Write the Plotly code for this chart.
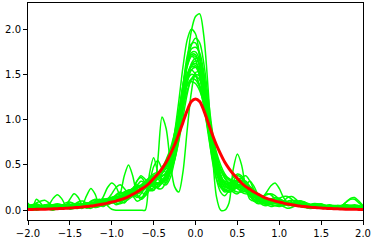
import numpy as np
import plotly.graph_objects as go

# x grid shared by all curves (step 0.05 from -2 to 2)
x_grid = [round(-2 + 0.05 * i, 2) for i in range(81)]

green_curves = {
    "A": [0.02,0.03,0.04,0.03,0.02,0.03,0.05,0.06,0.04,0.02,
          0.03,0.06,0.08,0.06,0.03,0.02,0.05,0.09,0.10,0.05,
          0.01,0.00,0.00,0.00,0.00,0.00,0.00,0.00,0.00,0.40,
          0.58,0.42,0.30,0.28,0.36,0.55,0.85,1.25,1.65,1.98,
          2.14,2.17,1.92,1.35,0.65,0.15,0.00,0.00,0.08,0.45,
          0.62,0.50,0.25,0.12,0.10,0.12,0.10,0.06,0.04,0.05,
          0.06,0.04,0.02,0.03,0.05,0.06,0.04,0.02,0.02,0.03,
          0.04,0.03,0.02,0.02,0.03,0.04,0.05,0.04,0.03,0.02,0.03],
    "B": [0.05,0.04,0.03,0.04,0.06,0.05,0.03,0.02,0.03,0.05,
          0.06,0.04,0.03,0.04,0.06,0.07,0.05,0.04,0.06,0.09,
          0.10,0.08,0.07,0.09,0.12,0.15,0.16,0.14,0.17,0.30,
          0.48,0.55,0.46,0.42,0.58,0.85,1.20,1.58,1.88,2.00,
          1.95,1.70,1.30,0.90,0.55,0.35,0.25,0.22,0.25,0.30,
          0.32,0.28,0.22,0.15,0.12,0.10,0.11,0.10,0.07,0.05,
          0.04,0.05,0.07,0.08,0.06,0.04,0.03,0.03,0.04,0.03,
          0.02,0.02,0.03,0.03,0.02,0.02,0.03,0.04,0.03,0.02,0.02],
    "C": [0.03,0.04,0.06,0.05,0.03,0.02,0.03,0.05,0.06,0.04,
          0.03,0.04,0.05,0.04,0.04,0.06,0.07,0.06,0.05,0.07,
          0.09,0.10,0.09,0.11,0.14,0.16,0.18,0.22,0.27,0.28,
          0.26,0.25,0.30,0.38,0.50,0.70,0.98,1.30,1.62,1.82,
          1.90,1.85,1.62,1.25,0.88,0.58,0.40,0.30,0.27,0.28,
          0.30,0.33,0.32,0.26,0.18,0.12,0.08,0.07,0.08,0.10,
          0.11,0.10,0.08,0.06,0.05,0.06,0.07,0.06,0.04,0.03,
          0.03,0.04,0.05,0.04,0.03,0.02,0.03,0.04,0.04,0.03,0.02],
    "D": [0.01,0.02,0.04,0.05,0.04,0.02,0.01,0.02,0.05,0.06,
          0.04,0.02,0.03,0.06,0.08,0.06,0.03,0.04,0.08,0.12,
          0.10,0.06,0.08,0.15,0.20,0.16,0.10,0.12,0.20,0.25,
          0.22,0.55,1.03,0.90,0.52,0.26,0.20,0.42,0.88,1.30,
          1.52,1.53,1.30,0.92,0.60,0.40,0.32,0.30,0.26,0.20,
          0.18,0.22,0.28,0.32,0.26,0.16,0.10,0.09,0.12,0.14,
          0.12,0.08,0.05,0.06,0.09,0.10,0.07,0.04,0.03,0.05,
          0.06,0.05,0.03,0.02,0.03,0.05,0.06,0.05,0.03,0.02,0.03],
    "E": [0.08,0.02,0.12,0.08,0.02,0.03,0.05,0.04,0.03,0.04,
          0.05,0.05,0.06,0.07,0.08,0.08,0.09,0.10,0.12,0.13,
          0.14,0.16,0.18,0.20,0.22,0.23,0.25,0.27,0.30,0.32,
          0.34,0.36,0.40,0.48,0.62,0.85,1.10,1.38,1.62,1.74,
          1.75,1.66,1.45,1.15,0.85,0.60,0.44,0.35,0.30,0.28,
          0.26,0.24,0.22,0.20,0.17,0.14,0.12,0.10,0.09,0.08,
          0.07,0.07,0.06,0.06,0.05,0.05,0.05,0.04,0.04,0.04,
          0.04,0.03,0.03,0.03,0.03,0.03,0.03,0.03,0.03,0.03,0.04],
    "F": [0.03,0.05,0.08,0.10,0.11,0.08,0.04,0.02,0.03,0.05,
          0.06,0.05,0.04,0.05,0.07,0.09,0.08,0.07,0.08,0.11,
          0.14,0.15,0.14,0.16,0.20,0.24,0.26,0.26,0.28,0.33,
          0.38,0.40,0.38,0.40,0.50,0.72,1.02,1.35,1.60,1.70,
          1.66,1.48,1.18,0.85,0.58,0.42,0.34,0.30,0.26,0.22,
          0.20,0.20,0.21,0.20,0.17,0.13,0.10,0.08,0.08,0.09,
          0.09,0.08,0.06,0.05,0.05,0.06,0.06,0.05,0.04,0.03,
          0.03,0.04,0.04,0.03,0.03,0.05,0.09,0.13,0.14,0.10,0.05],
    "G": [0.01,0.00,0.01,0.03,0.02,0.06,0.13,0.17,0.13,0.05,
          0.01,0.02,0.05,0.06,0.04,0.05,0.09,0.12,0.10,0.08,
          0.09,0.13,0.16,0.15,0.14,0.18,0.24,0.26,0.24,0.22,
          0.25,0.30,0.32,0.33,0.42,0.58,0.85,1.18,1.45,1.60,
          1.65,1.62,1.42,1.10,0.78,0.52,0.36,0.30,0.30,0.32,
          0.33,0.30,0.24,0.18,0.14,0.12,0.12,0.12,0.10,0.08,
          0.07,0.08,0.10,0.11,0.09,0.06,0.04,0.04,0.05,0.05,
          0.04,0.03,0.02,0.02,0.03,0.04,0.04,0.03,0.02,0.02,0.03],
    "H": [0.04,0.03,0.02,0.02,0.03,0.04,0.04,0.03,0.02,0.05,
          0.12,0.18,0.14,0.05,0.02,0.04,0.07,0.08,0.07,0.08,
          0.12,0.17,0.20,0.18,0.16,0.20,0.27,0.32,0.30,0.28,
          0.30,0.36,0.42,0.50,0.62,0.82,1.05,1.28,1.44,1.50,
          1.48,1.38,1.20,0.98,0.76,0.58,0.45,0.38,0.35,0.32,
          0.28,0.24,0.21,0.19,0.17,0.15,0.13,0.12,0.12,0.11,
          0.09,0.07,0.06,0.06,0.07,0.07,0.06,0.05,0.05,0.06,
          0.06,0.05,0.04,0.03,0.03,0.03,0.04,0.05,0.06,0.05,0.04],
    "I": [0.02,0.03,0.04,0.04,0.03,0.02,0.02,0.03,0.04,0.04,
          0.03,0.02,0.02,0.06,0.16,0.24,0.18,0.06,0.04,0.08,
          0.12,0.12,0.10,0.12,0.18,0.22,0.22,0.20,0.24,0.32,
          0.36,0.34,0.32,0.38,0.52,0.72,0.98,1.28,1.50,1.60,
          1.60,1.52,1.30,1.00,0.70,0.46,0.30,0.22,0.20,0.22,
          0.25,0.26,0.24,0.20,0.16,0.12,0.08,0.06,0.08,0.11,
          0.13,0.15,0.15,0.12,0.08,0.05,0.04,0.05,0.06,0.05,
          0.03,0.02,0.02,0.03,0.04,0.05,0.04,0.03,0.02,0.03,0.05],
    "J": [0.03,0.03,0.04,0.05,0.05,0.04,0.03,0.04,0.05,0.06,
          0.05,0.04,0.04,0.06,0.08,0.07,0.05,0.08,0.15,0.25,
          0.30,0.26,0.16,0.12,0.16,0.22,0.26,0.28,0.32,0.36,
          0.38,0.40,0.44,0.50,0.60,0.78,1.00,1.22,1.38,1.45,
          1.44,1.36,1.20,1.00,0.78,0.60,0.46,0.38,0.33,0.30,
          0.28,0.26,0.22,0.18,0.14,0.12,0.14,0.20,0.27,0.30,
          0.24,0.14,0.08,0.06,0.07,0.08,0.07,0.05,0.04,0.04,
          0.05,0.05,0.04,0.03,0.03,0.04,0.05,0.05,0.04,0.03,0.03],
    "K": [0.02,0.02,0.03,0.04,0.03,0.02,0.02,0.03,0.05,0.06,
          0.05,0.03,0.03,0.05,0.08,0.08,0.06,0.05,0.08,0.12,
          0.14,0.12,0.18,0.38,0.50,0.38,0.18,0.12,0.16,0.25,
          0.30,0.30,0.30,0.36,0.48,0.68,0.98,1.32,1.58,1.70,
          1.70,1.58,1.32,0.98,0.66,0.42,0.28,0.22,0.22,0.25,
          0.28,0.28,0.24,0.18,0.12,0.08,0.07,0.08,0.10,0.12,
          0.12,0.10,0.07,0.05,0.05,0.06,0.07,0.06,0.05,0.04,
          0.03,0.03,0.04,0.05,0.05,0.04,0.03,0.03,0.04,0.04,0.03],
    "L": [0.05,0.06,0.05,0.04,0.04,0.05,0.06,0.05,0.04,0.04,
          0.05,0.06,0.06,0.05,0.05,0.06,0.07,0.08,0.09,0.12,
          0.18,0.25,0.28,0.24,0.18,0.22,0.32,0.38,0.34,0.30,
          0.32,0.36,0.38,0.40,0.48,0.64,0.90,1.22,1.48,1.58,
          1.58,1.48,1.25,0.95,0.68,0.48,0.36,0.30,0.28,0.27,
          0.26,0.24,0.22,0.20,0.18,0.16,0.14,0.12,0.10,0.09,
          0.08,0.08,0.07,0.07,0.06,0.06,0.05,0.05,0.05,0.04,
          0.04,0.04,0.04,0.04,0.03,0.03,0.03,0.03,0.03,0.03,0.03],
    "M": [0.00,0.01,0.02,0.02,0.01,0.01,0.02,0.03,0.03,0.02,
          0.02,0.03,0.04,0.04,0.05,0.06,0.06,0.07,0.08,0.09,
          0.10,0.11,0.12,0.14,0.16,0.18,0.20,0.22,0.24,0.26,
          0.28,0.30,0.33,0.36,0.42,0.55,0.78,1.10,1.42,1.62,
          1.68,1.66,1.48,1.15,0.80,0.52,0.34,0.24,0.20,0.22,
          0.30,0.36,0.38,0.32,0.22,0.14,0.10,0.08,0.06,0.05,
          0.05,0.06,0.07,0.08,0.07,0.05,0.04,0.03,0.03,0.04,
          0.05,0.05,0.04,0.03,0.03,0.05,0.09,0.12,0.12,0.08,0.04],
    "N": [0.03,0.03,0.03,0.03,0.03,0.04,0.04,0.04,0.04,0.05,
          0.05,0.05,0.06,0.06,0.07,0.07,0.08,0.09,0.10,0.11,
          0.12,0.13,0.15,0.16,0.18,0.20,0.22,0.24,0.27,0.30,
          0.33,0.38,0.46,0.56,0.68,0.85,1.05,1.25,1.38,1.42,
          1.40,1.32,1.18,1.00,0.80,0.60,0.45,0.36,0.30,0.27,
          0.24,0.22,0.20,0.18,0.16,0.15,0.13,0.12,0.11,0.10,
          0.09,0.08,0.08,0.07,0.07,0.06,0.06,0.05,0.05,0.05,
          0.04,0.04,0.04,0.04,0.04,0.03,0.03,0.03,0.03,0.03,0.03],
    "O": [0.02,0.01,0.00,0.01,0.03,0.05,0.06,0.05,0.03,0.02,
          0.03,0.05,0.06,0.05,0.04,0.05,0.08,0.11,0.12,0.10,
          0.08,0.09,0.14,0.20,0.22,0.18,0.14,0.18,0.26,0.30,
          0.28,0.24,0.24,0.32,0.46,0.66,0.95,1.30,1.62,1.78,
          1.80,1.74,1.52,1.15,0.76,0.44,0.26,0.20,0.22,0.28,
          0.32,0.30,0.24,0.16,0.10,0.07,0.08,0.11,0.12,0.10,
          0.08,0.10,0.14,0.15,0.12,0.07,0.04,0.03,0.05,0.07,
          0.06,0.04,0.02,0.01,0.02,0.04,0.05,0.04,0.02,0.02,0.04],
    "P": [0.04,0.05,0.04,0.03,0.03,0.04,0.05,0.05,0.04,0.04,
          0.05,0.06,0.06,0.05,0.05,0.07,0.09,0.09,0.08,0.09,
          0.12,0.14,0.14,0.15,0.18,0.20,0.20,0.22,0.26,0.28,
          0.26,0.26,0.30,0.36,0.44,0.56,0.76,1.02,1.28,1.45,
          1.50,1.48,1.32,1.06,0.78,0.54,0.38,0.30,0.30,0.36,
          0.40,0.38,0.30,0.22,0.16,0.14,0.15,0.17,0.18,0.16,
          0.12,0.08,0.06,0.07,0.09,0.10,0.08,0.06,0.04,0.04,
          0.05,0.05,0.04,0.03,0.03,0.04,0.05,0.05,0.04,0.03,0.02],
    "Q": [0.04,0.06,0.07,0.05,0.03,0.04,0.06,0.07,0.06,0.04,
          0.04,0.06,0.09,0.10,0.08,0.06,0.07,0.10,0.12,0.12,
          0.10,0.10,0.13,0.18,0.22,0.22,0.20,0.22,0.28,0.32,
          0.32,0.30,0.32,0.40,0.54,0.76,1.06,1.38,1.62,1.72,
          1.72,1.60,1.36,1.02,0.70,0.46,0.32,0.26,0.26,0.30,
          0.34,0.35,0.30,0.22,0.15,0.10,0.08,0.09,0.12,0.14,
          0.13,0.10,0.07,0.06,0.07,0.09,0.09,0.07,0.05,0.04,
          0.04,0.05,0.05,0.04,0.03,0.03,0.04,0.05,0.05,0.04,0.03],
    "R": [0.06,0.05,0.03,0.02,0.03,0.05,0.06,0.05,0.03,0.03,
          0.05,0.07,0.07,0.05,0.04,0.06,0.09,0.10,0.09,0.10,
          0.13,0.15,0.15,0.17,0.21,0.24,0.25,0.26,0.30,0.36,
          0.40,0.42,0.42,0.46,0.58,0.78,1.04,1.32,1.50,1.55,
          1.50,1.36,1.14,0.88,0.64,0.46,0.36,0.32,0.30,0.28,
          0.24,0.20,0.18,0.18,0.19,0.18,0.15,0.11,0.08,0.07,
          0.07,0.08,0.09,0.08,0.06,0.04,0.04,0.05,0.07,0.07,
          0.05,0.03,0.02,0.03,0.04,0.05,0.05,0.04,0.03,0.03,0.04],
    "S": [0.00,0.00,0.02,0.04,0.03,0.01,0.00,0.02,0.05,0.08,
          0.09,0.07,0.04,0.03,0.05,0.09,0.12,0.11,0.08,0.06,
          0.08,0.12,0.14,0.12,0.14,0.22,0.32,0.36,0.30,0.22,
          0.22,0.28,0.34,0.38,0.46,0.62,0.88,1.20,1.48,1.60,
          1.62,1.56,1.36,1.05,0.74,0.50,0.34,0.26,0.24,0.26,
          0.30,0.32,0.30,0.24,0.16,0.10,0.06,0.05,0.07,0.10,
          0.10,0.08,0.06,0.06,0.08,0.10,0.09,0.06,0.03,0.02,
          0.03,0.05,0.06,0.05,0.03,0.02,0.02,0.04,0.05,0.04,0.02],
    "T": [0.03,0.04,0.04,0.04,0.04,0.05,0.05,0.05,0.05,0.06,
          0.06,0.06,0.07,0.07,0.08,0.08,0.09,0.10,0.11,0.12,
          0.13,0.14,0.16,0.18,0.20,0.22,0.24,0.26,0.28,0.30,
          0.32,0.34,0.37,0.42,0.52,0.66,0.88,1.12,1.32,1.44,
          1.48,1.44,1.30,1.08,0.84,0.64,0.50,0.40,0.34,0.30,
          0.27,0.24,0.22,0.20,0.18,0.16,0.14,0.13,0.12,0.11,
          0.10,0.09,0.08,0.08,0.07,0.07,0.06,0.06,0.05,0.05,
          0.05,0.04,0.04,0.04,0.04,0.04,0.03,0.03,0.03,0.03,0.03],
    "U": [0.05,0.03,0.01,0.02,0.05,0.07,0.05,0.02,0.02,0.05,
          0.08,0.07,0.03,0.02,0.05,0.10,0.11,0.07,0.05,0.08,
          0.13,0.14,0.10,0.08,0.14,0.24,0.28,0.22,0.16,0.22,
          0.34,0.40,0.34,0.30,0.42,0.66,1.00,1.38,1.70,1.84,
          1.85,1.70,1.40,1.00,0.62,0.34,0.20,0.16,0.22,0.32,
          0.38,0.36,0.26,0.16,0.10,0.10,0.14,0.18,0.17,0.12,
          0.07,0.05,0.07,0.10,0.11,0.08,0.04,0.02,0.03,0.06,
          0.07,0.05,0.03,0.02,0.03,0.05,0.05,0.04,0.02,0.02,0.04],
    "V": [0.02,0.02,0.03,0.03,0.04,0.04,0.03,0.03,0.04,0.05,
          0.05,0.04,0.05,0.07,0.08,0.07,0.06,0.07,0.10,0.12,
          0.12,0.11,0.12,0.16,0.20,0.20,0.18,0.20,0.26,0.30,
          0.30,0.28,0.30,0.36,0.46,0.62,0.86,1.14,1.40,1.55,
          1.58,1.56,1.40,1.12,0.82,0.56,0.38,0.28,0.24,0.24,
          0.26,0.28,0.28,0.26,0.22,0.17,0.13,0.10,0.09,0.09,
          0.10,0.10,0.09,0.07,0.05,0.05,0.06,0.07,0.06,0.05,
          0.04,0.03,0.03,0.04,0.05,0.05,0.04,0.03,0.03,0.04,0.05],
}

red_curve = [0.007,0.008,0.009,0.010,0.011,0.012,0.014,0.016,0.018,0.020,
             0.023,0.027,0.030,0.035,0.040,0.045,0.052,0.060,0.068,0.078,
             0.090,0.100,0.115,0.130,0.150,0.175,0.200,0.230,0.260,0.300,
             0.350,0.400,0.460,0.530,0.620,0.720,0.840,0.970,1.100,1.200,
             1.230,
             1.200,1.100,0.970,0.840,0.720,0.620,0.530,0.460,0.400,0.350,
             0.300,0.260,0.230,0.200,0.175,0.150,0.130,0.115,0.100,0.090,
             0.078,0.068,0.060,0.052,0.045,0.040,0.035,0.030,0.027,0.023,
             0.020,0.018,0.016,0.014,0.012,0.011,0.010,0.009,0.008,0.007]

x_ticks = [-2.0, -1.5, -1.0, -0.5, 0.0, 0.5, 1.0, 1.5, 2.0]
x_tick_text = ["\u22122.0", "\u22121.5", "\u22121.0", "\u22120.5", "0.0", "0.5", "1.0", "1.5", "2.0"]
y_ticks = [0.0, 0.5, 1.0, 1.5, 2.0]
y_tick_text = ["0.0", "0.5", "1.0", "1.5", "2.0"]

fig = go.Figure()
for name, vals in green_curves.items():
    fig.add_trace(go.Scatter(x=x_grid, y=vals, mode="lines",
                             line=dict(color="#00ff00", width=1.5, shape="spline", smoothing=0.8),
                             showlegend=False, hoverinfo="skip"))
fig.add_trace(go.Scatter(x=x_grid, y=red_curve, mode="lines",
                         line=dict(color="#ff0000", width=3, shape="spline", smoothing=0.8),
                         showlegend=False, hoverinfo="skip"))

axis_common = dict(showgrid=False, zeroline=False, showline=True, mirror=True,
                   linecolor="black", linewidth=1, ticks="outside", ticklen=4,
                   tickwidth=1, tickcolor="black", automargin=False,
                   tickfont=dict(family="DejaVu Sans", size=10, color="black"))
fig.update_layout(
    width=383, height=242,
    margin=dict(l=28, r=20, t=3, b=22, autoexpand=False),
    paper_bgcolor="white", plot_bgcolor="white",
    xaxis=dict(range=[-2, 2], tickvals=x_ticks, ticktext=x_tick_text, **axis_common),
    yaxis=dict(range=[-0.109, 2.29], tickvals=y_ticks, ticktext=y_tick_text, **axis_common),
)
fig.write_html("out.html", config={"displayModeBar": False},
               post_script="document.body.style.margin='0';document.body.style.overflow='hidden';")
